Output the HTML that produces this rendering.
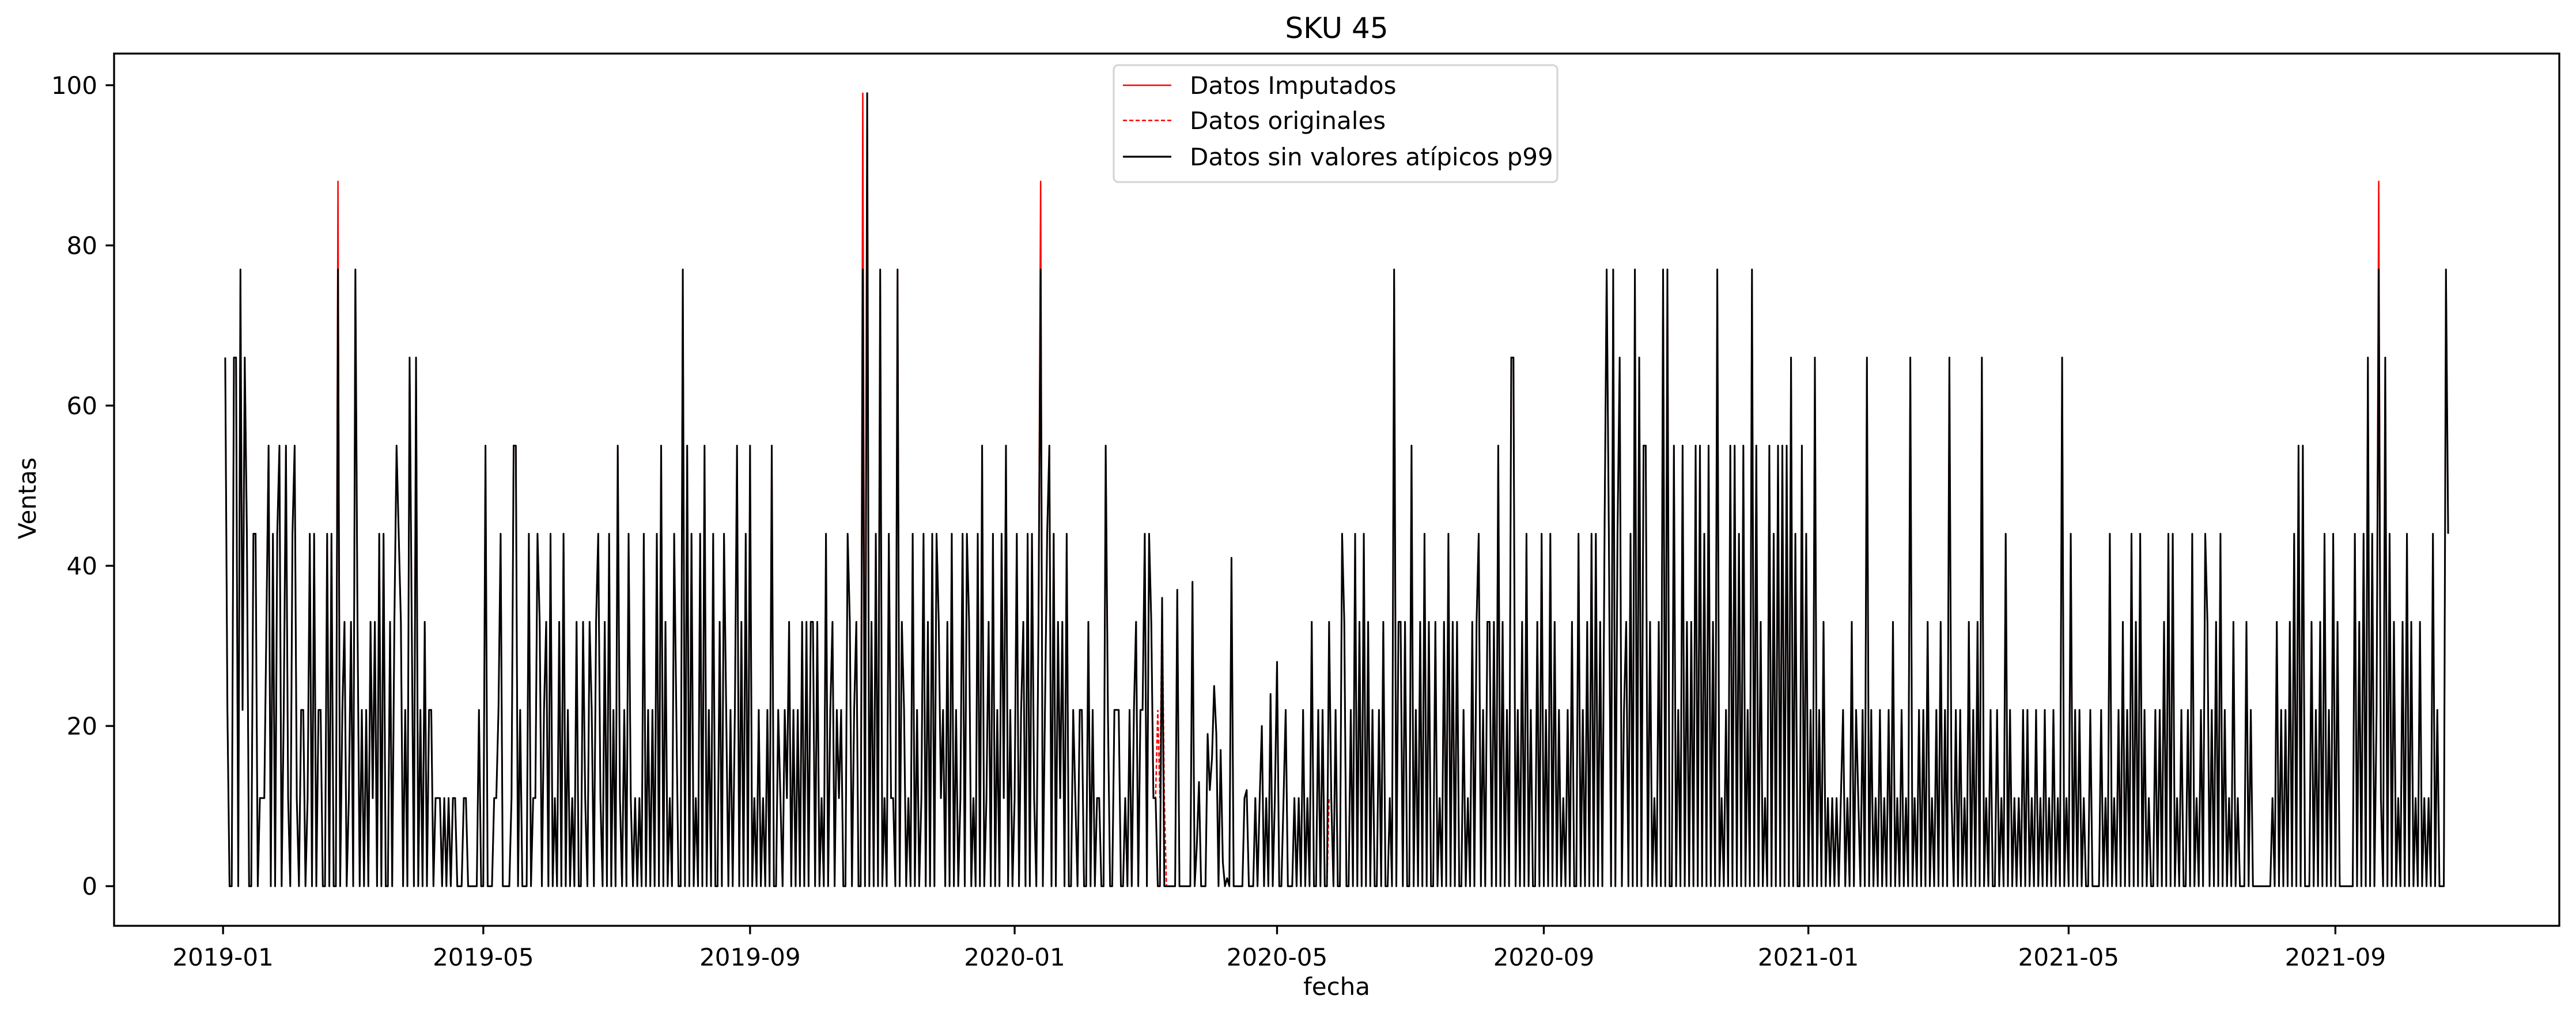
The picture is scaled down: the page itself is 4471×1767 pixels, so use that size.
<!DOCTYPE html>
<html><head><meta charset="utf-8"><style>
html,body{margin:0;padding:0;background:#fff}
svg{display:block}
text{font-family:"DejaVu Sans","Liberation Sans",sans-serif;fill:#000}
</style></head><body>
<svg id="chart" width="4471" height="1767" viewBox="0 0 4471 1767" xmlns="http://www.w3.org/2000/svg">
<rect width="4471" height="1767" fill="#fff"/>
<text x="2320" y="66" font-size="50" text-anchor="middle">SKU 45</text>
<text x="0" y="0" font-size="42" text-anchor="middle" transform="translate(62,865) rotate(-90)">Ventas</text>
<text x="2320" y="1727" font-size="42" text-anchor="middle">fecha</text>
<defs><clipPath id="plotclip"><rect x="198" y="93" width="4244" height="1514"/></clipPath></defs>
<g id="series" clip-path="url(#plotclip)"></g>
<g id="axes"></g>
<rect x="198" y="93" width="4244" height="1514" fill="none" stroke="#000" stroke-width="3.3"/>
<g>
<rect x="1933" y="113" width="770" height="203" rx="8" fill="#fff" fill-opacity="0.8" stroke="#d6d6d6" stroke-width="3.3"/>
<line x1="1949" y1="148" x2="2033" y2="148" stroke="#ff0000" stroke-width="2.5"/>
<text x="2065" y="163" font-size="42">Datos Imputados</text>
<line x1="1949" y1="209" x2="2033" y2="209" stroke="#ff0000" stroke-width="2.5" stroke-dasharray="7,4"/>
<text x="2065" y="224" font-size="42">Datos originales</text>
<line x1="1949" y1="272" x2="2033" y2="272" stroke="#000" stroke-width="3.3"/>
<text x="2065" y="287" font-size="42">Datos sin valores atípicos p99</text>
</g>
</svg>
<script>
// ---- data (daily, starting 2019-01-02) ----
const startDate = "2019-01-02";
// digits = sales / 11
const segA = "620066072640044011135040450251" + "045102201404022004040070230130" + "730202031304040030354302063060" +
 "203022011101010110001100000200" + "500011240000155020004011430230" + "401030402010300310320341030402" +
 "051020410101040202040503010420" + "070504010405020400304202025030" + "405010201020500210213020203030" +
 "330301040230212004302300709030" + "407010411070320104020140304043" + "120304020140430104050130402041" +
 "502014023040410370245040313040" + "021022003020110052002220010202" + "302240";
const covidSeg = [44,33,11,11,0,0,36,0,0,0,0,0,0,37,0,0,0,0,0,0,38,0,5,13,0,0,0,19,12,16,25,19,0,17,3,0,1,0,41,0,0,0,0,0,11,12,0,0,0,11,0,11,20,0,11,0,24,0,11,28,0,0,11,22,0,0,0,11,0,11,0,22,0,11,0,33,0,0,22,0,22,0,0,33,11,0,22,0,0,44];
const segB = "300204030403020020300107033030" + "050203040300301030403030020103" + "034020330305030206602030402003" +
 "040204030201020300402030404030" + "474070460230407060550301030707" + "005020503030505040503070102050" +
 "504050207050301050405050506040" + "050402060203010101012010302102" + "060201020102030102010601020203" +
 "010203020610202010302030601020" + "020104020101020201020102010201" + "060104020201002000020104010203" +
 "020403040201002020304040102002" + "040102043020304020103010003020" + "000000001030202030405050003020" +
 "304020403000000040304060402710" + "604030103040301030101040200074";
const spikeIdx = [52, 294, 376, 993];
const spikeVal = [88, 99, 88, 88];
const origIdx = [430, 431, 433, 509, 510];
const origVal = [22, 11, 11, 11, 11];
const yTicks = [0, 20, 40, 60, 80, 100];
const xTickLabels = ["2019-01","2019-05","2019-09","2020-01","2020-05","2020-09","2021-01","2021-05","2021-09"];

const ventas = segA.split("").map(c => +c * 11).concat(covidSeg).concat(segB.split("").map(c => +c * 11));
const imputados = ventas.slice(); spikeIdx.forEach((i, k) => { imputados[i] = spikeVal[k]; });
const originales = ventas.slice(); origIdx.forEach((i, k) => { originales[i] = origVal[k]; });

// ---- axes ----
const L = 198, R = 4442, T = 93, B = 1607;
const DAY = 86400000;
const t0 = Date.parse(startDate + "T00:00:00Z") / DAY;
const tN = t0 + ventas.length - 1;
const span = tN - t0;
const xmin = t0 - 0.05 * span, xmax = tN + 0.05 * span;
const ymin = -4.95, ymax = 103.95;
const X = d => L + (d - xmin) / (xmax - xmin) * (R - L);
const Y = v => B - (v - ymin) / (ymax - ymin) * (B - T);
const NS = "http://www.w3.org/2000/svg";
const series = document.getElementById("series");
const axes = document.getElementById("axes");

function mk(tag, attrs, parent) {
  const e = document.createElementNS(NS, tag);
  for (const k in attrs) e.setAttribute(k, attrs[k]);
  parent.appendChild(e); return e;
}
function pathOf(arr) {
  return arr.map((v, i) => (i ? "L" : "M") + X(t0 + i).toFixed(1) + "," + Y(v).toFixed(1)).join("");
}
const p1 = mk("path", {d: pathOf(imputados), fill: "none", stroke: "#ff0000", "stroke-width": 2.5, "stroke-linejoin": "round"}, series);


const p2 = mk("path", {d: pathOf(originales), fill: "none", stroke: "#ff0000", "stroke-width": 2.5, "stroke-dasharray": "7,4"}, series);


const p3 = mk("path", {d: pathOf(ventas), fill: "none", stroke: "#000", "stroke-width": 3, "stroke-linejoin": "round"}, series);



yTicks.forEach(v => {
  const y = Y(v);
  const tk = mk("line", {x1: L - 14.6, x2: L, y1: y, y2: y, stroke: "#000", "stroke-width": 3.3}, axes);
  
  
  const tx = mk("text", {x: L - 29, y: y + 15, "font-size": 42, "text-anchor": "end"}, axes);
  tx.textContent = v;
  
  
});
xTickLabels.forEach(lab => {
  const d = Date.parse(lab + "-01T00:00:00Z") / DAY;
  const x = X(d);
  const tk = mk("line", {x1: x, x2: x, y1: B, y2: B + 14.6, stroke: "#000", "stroke-width": 3.3}, axes);
  
  
  const tx = mk("text", {x: x, y: B + 69, "font-size": 42, "text-anchor": "middle"}, axes);
  tx.textContent = lab;
  
  
});
</script>
</body></html>
